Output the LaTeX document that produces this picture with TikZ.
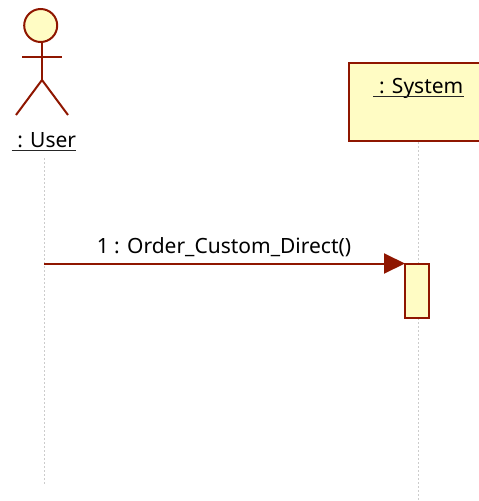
\documentclass[tikz,border=0pt]{standalone}
\usepackage{fontspec}
\setmainfont{Noto Sans}
\usepackage{xcolor}
\usepackage{tikz}
\usetikzlibrary{arrows.meta}
\definecolor{umlred}{HTML}{8F1600}
\definecolor{umlfill}{HTML}{FFFCC4}
\definecolor{lifegray}{HTML}{CCCCCC}
\tikzset{
  umlbox/.style={draw=umlred, fill=umlfill, line width=2pt, inner sep=0pt},
  stick/.style={draw=umlred, line width=2pt},
  lifeline/.style={draw=lifegray, line width=1pt, dash pattern=on 2pt off 2pt},
  msg/.style={draw=umlred, line width=2pt, -{Triangle[length=21pt,width=20pt]}, shorten >=-1pt},
  lab/.style={text=black, font=\fontsize{21}{25}\selectfont, inner sep=0pt, anchor=base},
  under/.style={draw=black!85, line width=1pt}
}

\begin{document}
\begin{tikzpicture}[x=1pt,y=-1pt]
  \useasboundingbox (0,0) rectangle (479,501);
  \clip (0,0) rectangle (479,501);

  % lifelines
  \coordinate (usertop) at (44,158);
  \coordinate (userend) at (44,484);
  \coordinate (systop) at (418.5,142);
  \coordinate (sysend) at (418.5,501);
  \draw[lifeline] (usertop) -- (userend);
  \draw[lifeline] (systop) -- (sysend);

  % actor
  \coordinate (neck) at (42,42);
  \coordinate (hip) at (42,80);
  \coordinate (armL) at (22,57);
  \coordinate (armR) at (62,57);
  \coordinate (legL) at (16,115);
  \coordinate (legR) at (68,115);
  \draw[stick] (neck) -- (hip);
  \draw[stick] (armL) -- (armR);
  \draw[stick] (legL) -- (hip) -- (legR);
  \node[umlbox, circle, minimum size=33pt] (head) at (40.7,25.5) {};
  \node[lab] (username) at (44,147.5) {\ : User};
  \draw[under] ([yshift=-2.5pt]username.base west) -- ([yshift=-2.5pt]username.base east);

  % system box, runs off the right edge
  \node[umlbox, minimum width=140pt, minimum height=78pt] (sysbox) at (418.5,102) {};
  \node[lab] (sysname) at (418.5,93.5) {\ : System};
  \draw[under] ([yshift=-2.5pt]sysname.base west) -- ([yshift=-2.5pt]sysname.base east);

  % activation
  \node[umlbox, minimum width=24pt, minimum height=54.5pt] (act) at (417,290.75) {};

  % message
  \coordinate (msgstart) at (44,263.5);
  \draw[msg] (msgstart) -- (msgstart -| act.west);
  \node[lab] (msglabel) at (224,253.5) {1 : Order\_Custom\_Direct()};
\end{tikzpicture}
\end{document}
